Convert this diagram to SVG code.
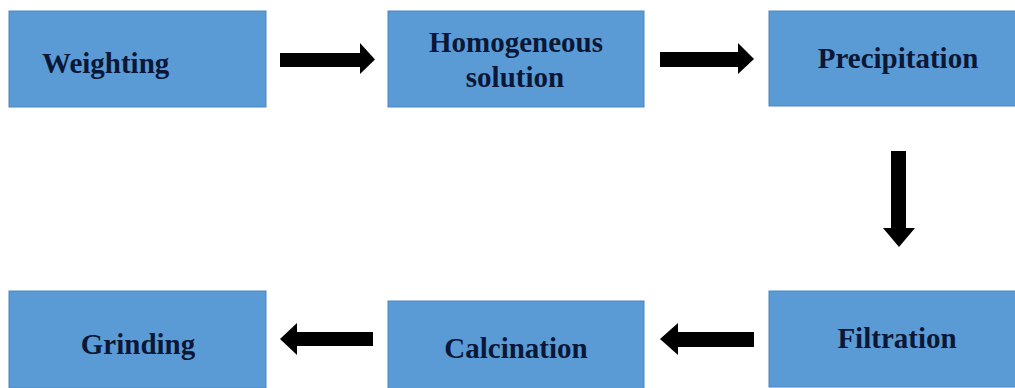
<svg xmlns="http://www.w3.org/2000/svg" width="1015" height="388" viewBox="0 0 1015 388">
<style>
.box{fill:#5b9bd5;stroke:#4a86c0;stroke-width:1}
.lbl{font-family:"Liberation Serif","Times New Roman",serif;font-weight:bold;font-size:29px;fill:#0b1736;text-anchor:middle}
.arr{fill:#000}
</style>
<rect width="1015" height="388" fill="#fff"/>
<g id="weighting"><rect class="box" x="9" y="11" width="257" height="96"/><text class="lbl" x="42" y="73" style="text-anchor:start">Weighting</text></g>
<g id="homogeneous"><rect class="box" x="388" y="11" width="256" height="96"/><text class="lbl" x="516" y="52">Homogeneous</text><text class="lbl" x="515" y="87">solution</text></g>
<g id="precipitation"><rect class="box" x="769" y="11" width="247" height="95"/><text class="lbl" x="898" y="68">Precipitation</text></g>
<g id="filtration"><rect class="box" x="769" y="291" width="247" height="96"/><text class="lbl" x="897" y="348">Filtration</text></g>
<g id="calcination"><rect class="box" x="388" y="301" width="256" height="88"/><text class="lbl" x="516" y="358">Calcination</text></g>
<g id="grinding"><rect class="box" x="9" y="291" width="257" height="97"/><text class="lbl" x="138" y="354">Grinding</text></g>
<g id="connectors">
<polygon class="arr" points="280,53 360,53 360,43 375,59.5 360,74 360,67 280,67"/>
<polygon class="arr" points="660,52 738,52 738,43 754,59 738,74 738,67 660,67"/>
<polygon class="arr" points="891,151 906,151 906,228 915,228 899,247 883,228 891,228"/>
<polygon class="arr" points="754,332 678,332 678,323 660,339 678,355 678,347 754,347"/>
<polygon class="arr" points="373,332 297,332 297,323 280,339 297,355 297,346 373,346"/>
</g>
</svg>
